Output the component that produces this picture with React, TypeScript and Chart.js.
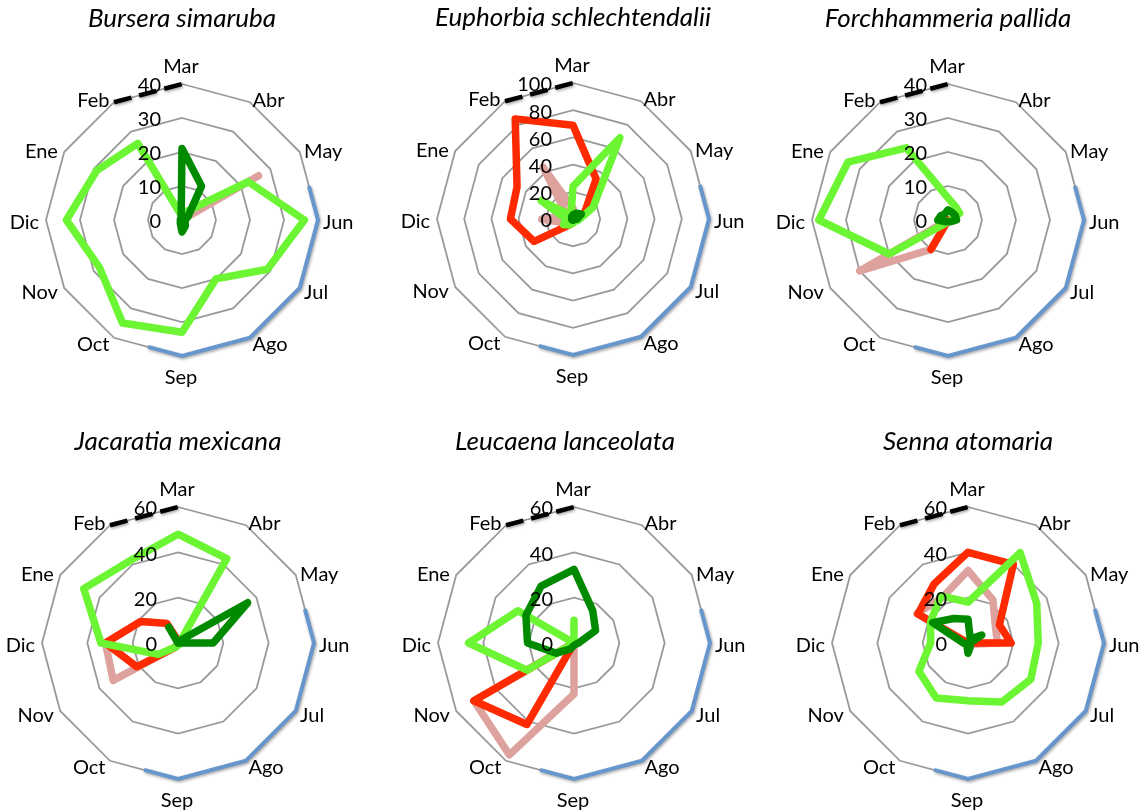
import React, { useEffect, useRef } from 'react';
import { Chart, registerables } from 'chart.js';

Chart.register(...registerables);

// ---------- categories ----------
const months = ['Mar', 'Abr', 'May', 'Jun', 'Jul', 'Ago', 'Sep', 'Oct', 'Nov', 'Dic', 'Ene', 'Feb'];

// season markers on the outer ring (positions as category indices)
const rainySeason = [2.5, 6.5];
const drySeasonMarker = [11, 12];

// ---------- Bursera simaruba ----------
const burseraTicks = [0, 10, 20, 30, 40];
const burseraPink = [0, 0, 26, 0, 0, 0, 0, 0, 0, 0, 0, 0];
const burseraRed = [0, 0, 0, 0, 0, 0, 0, 0, 0, 0, 0, 0];
const burseraLight = [1, 3, 22.5, 36, 29, 20, 33, 35, 28, 34, 29, 26];
const burseraDark = [21, 11.5, 2, 1, 1, 2, 3.5, 1, 0.5, 0.5, 0.5, 0.5];

// ---------- Euphorbia schlechtendalii ----------
const euphorbiaTicks = [0, 20, 40, 60, 80, 100];
const euphorbiaPink = [8, 0, 0, 0, 0, 0, 0, 0, 6, 23, 5, 44];
const euphorbiaRed = [69, 34, 10, 2, 1, 1, 2, 5, 33, 46, 47.5, 85];
const euphorbiaLight = [24, 69, 17, 5, 3, 2, 3, 5, 8, 5, 27, 3];
const euphorbiaDark = [3, 5, 7, 3, 1, 1, 1, 1, 1, 1, 1, 2];

// ---------- Forchhammeria pallida ----------
const forchTicks = [0, 10, 20, 30, 40];
const forchPink = [0, 0, 0, 0, 0, 0, 0, 10, 30, 0, 0, 0];
const forchRed = [0, 0, 0, 0, 0, 0, 0, 10, 0, 0, 0, 0];
const forchLight = [6.5, 4.5, 4, 1, 0.5, 0.5, 0.5, 1, 20, 38, 34, 24.5];
const forchDark = [3, 2.5, 2.5, 2.5, 1, 0.5, 0.5, 0.5, 1, 3, 2.5, 2];

// ---------- Jacaratia mexicana ----------
const jacaratiaTicks = [0, 20, 40, 60];
const jacaratiaPink = [1, 0, 0, 0, 0, 0, 0, 2, 33, 32, 19, 10];
const jacaratiaRed = [1, 0, 0, 0, 0, 0, 0, 2, 21, 32, 19, 10];
const jacaratiaLight = [48, 43, 1, 1, 1, 1, 1, 2, 10, 34, 48, 42];
const jacaratiaDark = [0, 1, 35.5, 15.5, 0, 0, 0, 0, 0, 0, 0, 8];

// ---------- Leucaena lanceolata ----------
const leucaenaTicks = [0, 20, 40, 60];
const leucaenaPink = [0, 0, 0, 0, 0, 0, 22.5, 57, 51, 0, 0, 0];
const leucaenaRed = [0, 0, 0, 0, 0, 0, 0, 41.5, 51, 0, 0, 0];
const leucaenaLight = [10, 0, 0, 0, 0, 0, 0, 0, 24, 46.5, 28.5, 0];
const leucaenaDark = [32.5, 16.5, 11, 2, 1, 1, 1, 3, 9, 20.5, 24.5, 29];

// ---------- Senna atomaria ----------
const sennaTicks = [0, 20, 40, 60];
const sennaPink = [32, 22, 14, 13, 1, 0, 0, 0, 0, 0, 26, 23];
const sennaRed = [40, 40, 16, 19, 0, 0, 0, 0, 0, 0, 25.5, 30];
const sennaLight = [18, 46, 35, 31, 32, 30, 25.5, 28, 25, 16.5, 19, 24];
const sennaDark = [10.5, 2, 7, 1, 1, 2, 4.5, 1, 1, 2, 18, 12.5];

// ---------- styles ----------
const FONT = 'Lato, "Open Sans", "DejaVu Sans", sans-serif';
const colorDark = '#008A00';
const colorLight = '#6CF532';
const colorRed = '#FF2A00';
const colorPink = '#DDA29D';
const colorGrid = '#999999';
const colorRain = '#6796CC';

type Panel = {
  title: string;
  cx: number;
  cy: number;
  titleDx: number;
  ticks: number[];
  pink: number[];
  red: number[];
  light: number[];
  dark: number[];
};

const panels: Panel[] = [
  { title: 'Bursera simaruba', cx: 182, cy: 220, titleDx: 0, ticks: burseraTicks, pink: burseraPink, red: burseraRed, light: burseraLight, dark: burseraDark },
  { title: 'Euphorbia schlechtendalii', cx: 573, cy: 219, titleDx: 0, ticks: euphorbiaTicks, pink: euphorbiaPink, red: euphorbiaRed, light: euphorbiaLight, dark: euphorbiaDark },
  { title: 'Forchhammeria pallida', cx: 948, cy: 220, titleDx: 0, ticks: forchTicks, pink: forchPink, red: forchRed, light: forchLight, dark: forchDark },
  { title: 'Jacaratia mexicana', cx: 178, cy: 643, titleDx: 0, ticks: jacaratiaTicks, pink: jacaratiaPink, red: jacaratiaRed, light: jacaratiaLight, dark: jacaratiaDark },
  { title: 'Leucaena lanceolata', cx: 574, cy: 643, titleDx: -9, ticks: leucaenaTicks, pink: leucaenaPink, red: leucaenaRed, light: leucaenaLight, dark: leucaenaDark },
  { title: 'Senna atomaria', cx: 968, cy: 643, titleDx: 0, ticks: sennaTicks, pink: sennaPink, red: sennaRed, light: sennaLight, dark: sennaDark },
];

const CANVAS_W = 360;
const CANVAS_H = 389;
const PAD_X = 44;
const PAD_TOP = 84;
const PAD_BOTTOM = CANVAS_H - PAD_TOP - 272;

function makeDecorPlugin(panel: Panel) {
  return {
    id: 'decor',
    beforeDatasetsDraw(chart: any) {
      const scale = chart.scales.r;
      const ctx = chart.ctx as CanvasRenderingContext2D;
      const n = months.length;
      const vertex = (i: number) => scale.getPointPositionForValue(((i % n) + n) % n, scale.max);
      const at = (f: number) => {
        const i = Math.floor(f);
        const t = f - i;
        const a = vertex(i);
        const b = vertex(i + 1);
        return { x: a.x + (b.x - a.x) * t, y: a.y + (b.y - a.y) * t };
      };
      ctx.save();
      ctx.shadowColor = 'rgba(0,0,0,0.35)';
      ctx.shadowBlur = 3;
      ctx.shadowOffsetX = 1;
      ctx.shadowOffsetY = 1.5;
      // rainy season (blue)
      ctx.strokeStyle = colorRain;
      ctx.lineWidth = 4;
      ctx.lineJoin = 'miter';
      ctx.lineCap = 'butt';
      ctx.beginPath();
      let p = at(rainySeason[0]);
      ctx.moveTo(p.x, p.y);
      for (let i = Math.ceil(rainySeason[0]); i <= Math.floor(rainySeason[1]); i++) {
        p = vertex(i);
        ctx.lineTo(p.x, p.y);
      }
      p = at(rainySeason[1]);
      ctx.lineTo(p.x, p.y);
      ctx.stroke();
      // dry season marker (black dashed)
      ctx.strokeStyle = '#000000';
      ctx.lineWidth = 4.5;
      ctx.setLineDash([18, 8]);
      ctx.beginPath();
      p = at(drySeasonMarker[0]);
      ctx.moveTo(p.x, p.y);
      p = at(drySeasonMarker[1]);
      ctx.lineTo(p.x, p.y);
      ctx.stroke();
      ctx.restore();
    },
    afterDatasetsDraw(chart: any) {
      const scale = chart.scales.r;
      const ctx = chart.ctx as CanvasRenderingContext2D;
      const xc = scale.xCenter;
      const yc = scale.yCenter;
      const R = scale.drawingArea;
      ctx.save();
      ctx.fillStyle = '#000000';
      ctx.font = `20px ${FONT}`;
      // tick labels
      ctx.textAlign = 'right';
      ctx.textBaseline = 'middle';
      scale.ticks.forEach((t: any) => {
        const d = scale.getDistanceFromCenterForValue(t.value);
        ctx.fillText(String(t.value), xc - 21, yc - d + 2);
      });
      // month labels
      months.forEach((m, i) => {
        const ang = scale.getIndexAngle(i);
        const s = Math.sin(ang);
        const c = Math.cos(ang);
        if (Math.abs(s) < 0.01) {
          ctx.textAlign = 'center';
          ctx.textBaseline = 'alphabetic';
          if (c > 0) ctx.fillText(m, xc - 1, yc - R - 11);
          else ctx.fillText(m, xc - 1, yc + R + 27.5);
        } else {
          const pos = scale.getPointPosition(i, R + 5);
          ctx.textAlign = s > 0 ? 'left' : 'right';
          ctx.textBaseline = 'middle';
          ctx.fillText(m, pos.x + (s > 0 ? 0 : -2), pos.y + 2.5);
        }
      });
      // title
      ctx.font = `italic 26px ${FONT}`;
      ctx.textAlign = 'center';
      ctx.textBaseline = 'alphabetic';
      ctx.fillText(panel.title, xc + panel.titleDx, yc - 220 + 27);
      ctx.restore();
    },
  };
}

function RadarPanel({ panel }: { panel: Panel }) {
  const ref = useRef<HTMLCanvasElement | null>(null);
  useEffect(() => {
    if (!ref.current) return;
    const lineOpts = {
      pointRadius: 0,
      pointHoverRadius: 0,
      borderWidth: 7.5,
      fill: false,
      tension: 0,
      borderJoinStyle: 'round' as const,
      borderCapStyle: 'round' as const,
    };
    const chart = new Chart(ref.current, {
      type: 'radar',
      data: {
        labels: months,
        datasets: [
          { label: 'Serie verde oscuro', data: panel.dark, borderColor: colorDark, backgroundColor: colorDark, ...lineOpts },
          { label: 'Serie verde claro', data: panel.light, borderColor: colorLight, backgroundColor: colorLight, ...lineOpts },
          { label: 'Serie roja', data: panel.red, borderColor: colorRed, backgroundColor: colorRed, ...lineOpts },
          { label: 'Serie rosa', data: panel.pink, borderColor: colorPink, backgroundColor: colorPink, ...lineOpts },
        ],
      },
      options: {
        responsive: false,
        animation: false,
        events: [],
        devicePixelRatio: 1,
        layout: { padding: { left: PAD_X, right: PAD_X, top: PAD_TOP, bottom: PAD_BOTTOM } },
        plugins: {
          legend: { display: false },
          tooltip: { enabled: false },
          title: { display: false },
        },
        scales: {
          r: {
            min: panel.ticks[0],
            max: panel.ticks[panel.ticks.length - 1],
            ticks: { stepSize: panel.ticks[1] - panel.ticks[0], display: false },
            grid: { color: colorGrid, lineWidth: 1.8, circular: false },
            angleLines: { display: false },
            pointLabels: { display: false },
          },
        },
      },
      plugins: [makeDecorPlugin(panel)],
    } as any);
    return () => chart.destroy();
  }, [panel]);
  return (
    <canvas
      ref={ref}
      width={CANVAS_W}
      height={CANVAS_H}
      style={{ position: 'absolute', left: panel.cx - 180, top: panel.cy - 220, width: CANVAS_W, height: CANVAS_H }}
    />
  );
}

export default function App() {
  return (
    <div style={{ position: 'fixed', left: 0, top: 0, width: 1145, height: 812, overflow: 'hidden', background: '#ffffff' }}>
      {panels.map((p) => (
        <RadarPanel key={p.title} panel={p} />
      ))}
    </div>
  );
}
